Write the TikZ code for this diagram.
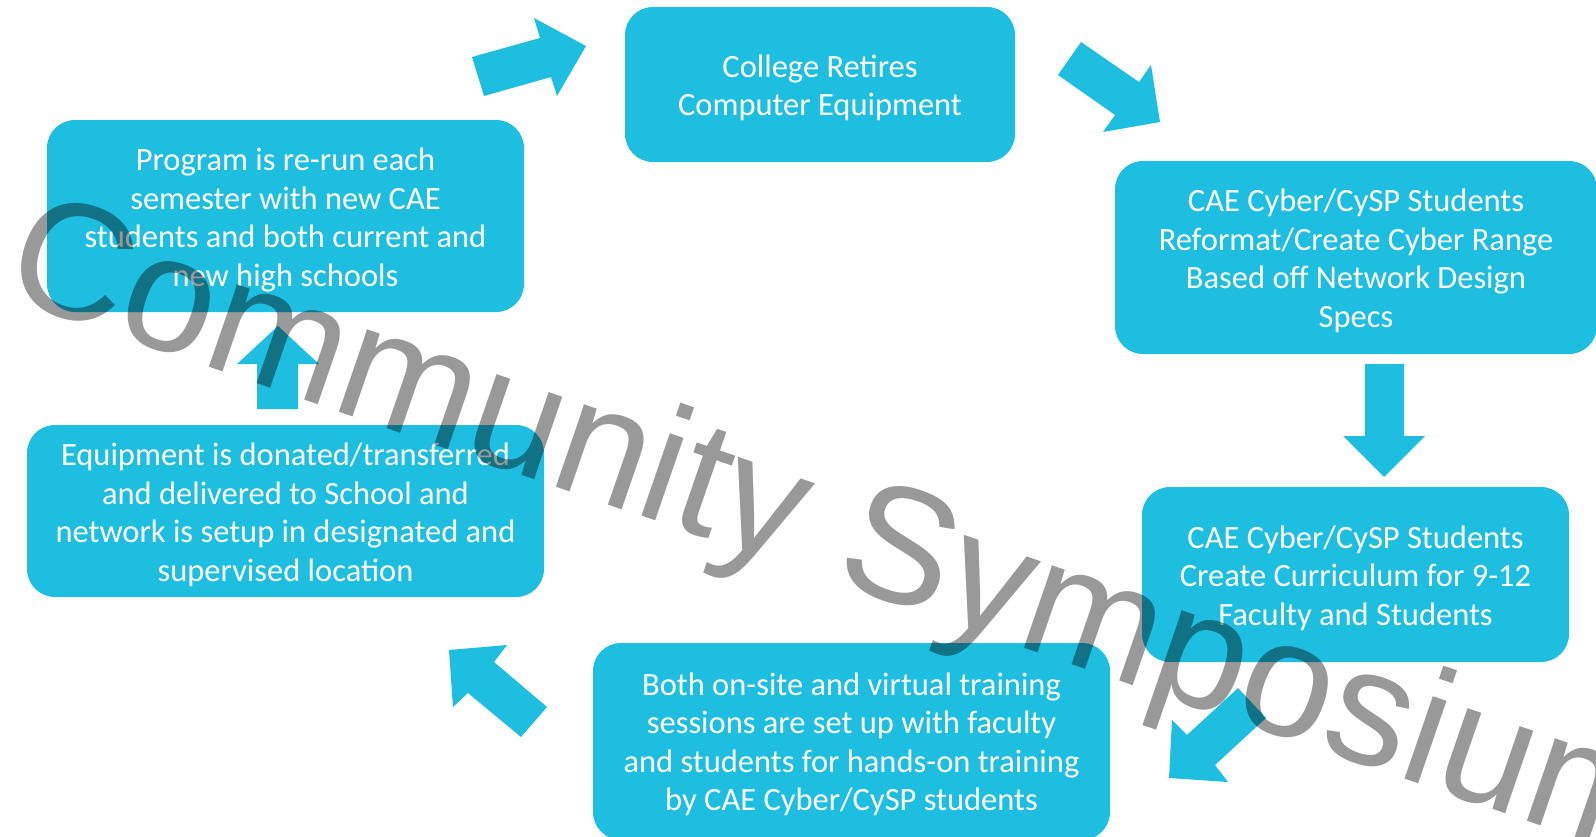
\documentclass[tikz,border=0pt]{standalone}
\usepackage{fontspec}
\setmainfont{Carlito}
\newfontfamily\wmfont{Liberation Sans}
\definecolor{cyanbox}{RGB}{29,190,223}
\tikzset{
  stepbox/.style={fill=cyanbox, rounded corners=28pt, inner sep=0pt},
  steptext/.style={inner sep=0pt, align=center, text=white,
    font={\fontsize{32.5}{38.5}\selectfont}},
  blockarrow/.style={fill=cyanbox, draw=none},
  watermark/.style={inner sep=0pt, text=black, text opacity=0.4,
    font={\wmfont\fontsize{165}{165}\selectfont}}
}
\begin{document}
\begin{tikzpicture}[x=1pt,y=-1pt]
\useasboundingbox (0,0) rectangle (1596,836);
% boxes
\node[stepbox, minimum width=390pt, minimum height=155pt] (college) at (820,84.5) {};
\node[stepbox, minimum width=482pt, minimum height=193pt] (reformat) at (1356,257.5) {};
\node[stepbox, minimum width=427pt, minimum height=175pt] (curric) at (1355.5,574.5) {};
\node[stepbox, minimum width=517pt, minimum height=197pt] (training) at (851.5,741.5) {};
\node[stepbox, minimum width=517pt, minimum height=172pt] (donate) at (285.5,511) {};
\node[stepbox, minimum width=477pt, minimum height=192pt] (rerun) at (285.5,216) {};
% texts
\node[steptext] (college-t) at ([yshift=-3.5pt]college.center)
  {College Retires\\Computer Equipment};
\node[steptext] (reformat-t) at ([yshift=-3.5pt]reformat.center)
  {CAE Cyber/CySP Students\\Reformat/Create Cyber Range\\Based off Network Design\\Specs};
\node[steptext] (curric-t) at ([yshift=-3.5pt]curric.center)
  {CAE Cyber/CySP Students\\Create Curriculum for 9-12\\Faculty and Students};
\node[steptext] (training-t) at ([yshift=-3pt]training.center)
  {Both on-site and virtual training\\sessions are set up with faculty\\and students for hands-on training\\by CAE Cyber/CySP students};
\node[steptext] (donate-t) at ([yshift=-4pt]donate.center)
  {Equipment is donated/transferred\\and delivered to School and\\network is setup in designated and\\supervised location};
\node[steptext] (rerun-t) at ([yshift=-4pt]rerun.center)
  {Program is re-run each\\semester with new CAE\\students and both current and\\new high schools};
% block arrows
\fill[blockarrow] (472,57) -- (540,38) -- (534,18) -- (586,46) -- (557,96) -- (551,77) -- (484,96) -- cycle;
\fill[blockarrow] (1081,42) -- (1139,82) -- (1151,65) -- (1160,122) -- (1103,132) -- (1115,115) -- (1058,75) -- cycle;
\fill[blockarrow] (1365,364) -- (1404,364) -- (1404,436) -- (1425,436) -- (1384,477) -- (1343,436) -- (1365,436) -- cycle;
\fill[blockarrow] (1238,688) -- (1266,718) -- (1215,765) -- (1228,782) -- (1169,778) -- (1172,720) -- (1187,735) -- cycle;
\fill[blockarrow] (449,650) -- (507,645) -- (494,662) -- (547,707) -- (521,737) -- (468,693) -- (453,707) -- cycle;
\fill[blockarrow] (257,409) -- (298,409) -- (298,364) -- (319,364) -- (278,326) -- (237,364) -- (257,364) -- cycle;
% watermark
\node[watermark, anchor=base west, rotate=-19] (wm) at (-1,295) {Community Symposium};
\end{tikzpicture}
\end{document}
